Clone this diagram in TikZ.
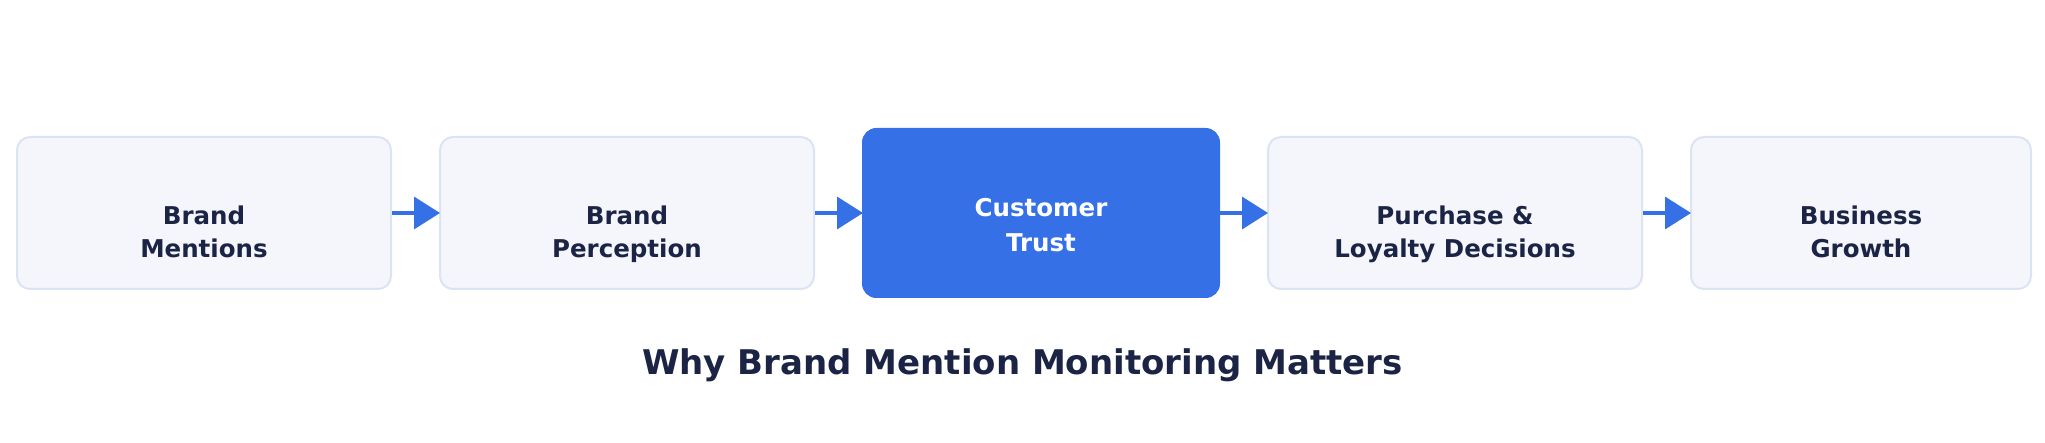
\documentclass[tikz,border=0pt]{standalone}
\usepackage{fontspec}
\setmainfont{DejaVu Sans}
\usetikzlibrary{arrows.meta}
\definecolor{boxfill}{HTML}{F4F6FB}
\definecolor{boxline}{HTML}{DCE3F2}
\definecolor{accent}{HTML}{3570E6}
\definecolor{ink}{HTML}{1B2444}
\tikzset{
  graybox/.style={draw=boxline, fill=boxfill, line width=2pt, rounded corners=13pt, minimum height=152pt, inner sep=0pt},
  bluebox/.style={draw=accent, fill=accent, line width=1pt, rounded corners=14pt, minimum width=357pt, minimum height=169pt, inner sep=0pt},
  txt/.style={anchor=base, inner sep=0pt, text=ink, font=\fontsize{24.5}{33}\selectfont\bfseries},
  wtxt/.style={txt, text=white},
  flow/.style={draw=accent, line width=3.5pt, -{Triangle[length=26pt, width=32pt]}, shorten >=-1pt},
}
\begin{document}
\begin{tikzpicture}[x=1pt, y=-1pt]
\useasboundingbox (0,0) rectangle (2045,443);
\node[graybox, minimum width=374pt] (b1) at (204,213) {};
\node[graybox, minimum width=374pt] (b2) at (627,213) {};
\node[bluebox] (b3) at (1041,213) {};
\node[graybox, minimum width=374pt] (b4) at (1455,213) {};
\node[graybox, minimum width=340pt] (b5) at (1861,213) {};
\node[txt] (t1a) at (204,225) {Brand};
\node[txt] (t1b) at (204,258) {Mentions};
\node[txt] (t2a) at (627,225) {Brand};
\node[txt] (t2b) at (627,258) {Perception};
\node[wtxt] (t3a) at (1041,217) {Customer};
\node[wtxt] (t3b) at (1041,252) {Trust};
\node[txt] (t4a) at (1455,225) {Purchase \&};
\node[txt] (t4b) at (1455,258) {Loyalty Decisions};
\node[txt] (t5a) at (1861,225) {Business};
\node[txt] (t5b) at (1861,258) {Growth};
\draw[flow] (b1.east) -- (b2.west);
\draw[flow] (b2.east) -- (b3.west);
\draw[flow] (b3.east) -- (b4.west);
\draw[flow] (b4.east) -- (b5.west);
\node[anchor=base, inner sep=0pt, text=ink, font=\fontsize{34}{40}\selectfont\bfseries] (title) at (1022.5,374) {Why Brand Mention Monitoring Matters};
\end{tikzpicture}
\end{document}
